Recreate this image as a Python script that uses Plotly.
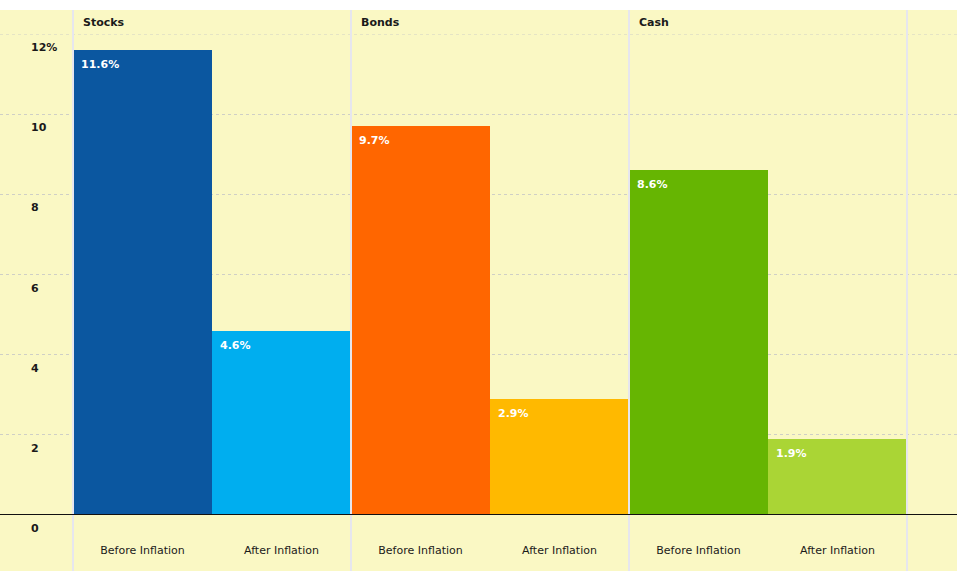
import plotly.graph_objects as go

assets = ["Stocks", "Bonds", "Cash"]
phases = ["Before Inflation", "After Inflation"]
before_inflation = [11.6, 9.7, 8.6]
after_inflation = [4.6, 2.9, 1.9]
before_colors = ["#0B57A0", "#FF6600", "#66B502"]
after_colors = ["#00AEEF", "#FFB900", "#AAD535"]
y_ticks = [0, 2, 4, 6, 8, 10, 12]
y_tick_text = ["0", "2", "4", "6", "8", "10", "12%"]

BG = "#FAF8C4"
FONT = "DejaVu Sans, Verdana, sans-serif"
W, H = 957, 571
M_T, M_B = 34, 56
BAR_PX = 139.0
LEFT_PX = 73.0

keys, vals, cols, tick_text = [], [], [], []
for a, b, af, cb, ca in zip(assets, before_inflation, after_inflation, before_colors, after_colors):
    keys += [f"{a}|{phases[0]}", f"{a}|{phases[1]}"]
    vals += [b, af]
    cols += [cb, ca]
    tick_text += phases

fig = go.Figure()
fig.add_trace(go.Bar(
    x=keys, y=vals, marker=dict(color=cols, line=dict(width=0)),
    width=1.0, hoverinfo="skip", showlegend=False,
))

x0 = -0.5 - LEFT_PX / BAR_PX
x1 = x0 + W / BAR_PX
plot_h = H - M_T - M_B

annotations = []
# value labels inside bars
for k, v in zip(keys, vals):
    annotations.append(dict(
        x=k, y=v, xref="x", yref="y", text=f"{v:.1f}%", showarrow=False,
        xanchor="left", yanchor="top", xshift=-BAR_PX / 2 + 6, yshift=-6,
        font=dict(family=FONT, size=11, color="white", weight="bold"),
    ))
# group headers
for i, a in enumerate(assets):
    annotations.append(dict(
        x=keys[2 * i], y=1 + 12 / plot_h, xref="x", yref="paper", text=a, showarrow=False,
        xanchor="left", yanchor="middle", xshift=-BAR_PX / 2 + 8,
        font=dict(family=FONT, size=11, color="#1a1a1a", weight="bold"),
    ))
# y tick labels (below gridlines)
for t, tt in zip(y_ticks, y_tick_text):
    annotations.append(dict(
        x=29 / W, y=t, xref="paper", yref="y", text=tt, showarrow=False,
        xanchor="left", yanchor="top", yshift=-5,
        font=dict(family=FONT, size=11, color="#1a1a1a", weight="bold"),
    ))

shapes = []
# white strip at top
shapes.append(dict(type="rect", xref="paper", yref="paper", x0=0, x1=1,
                   y0=1 + 24 / plot_h, y1=1 + 40 / plot_h, fillcolor="white",
                   line=dict(width=0), layer="above"))
# top dotted gridline (at range edge)
shapes.append(dict(type="line", xref="paper", yref="y", x0=0, x1=1,
                   y0=y_ticks[-1], y1=y_ticks[-1],
                   line=dict(color="#CFCFC6", width=1, dash="dot"), layer="below"))
# vertical group separators
for b in [-0.5, 1.5, 3.5, 5.5]:
    shapes.append(dict(type="line", xref="x", yref="paper", x0=b, x1=b,
                       y0=-M_B / plot_h, y1=1 + 24 / plot_h,
                       line=dict(color="#E6E6EE", width=2), layer="above"))
# zero line
shapes.append(dict(type="line", xref="paper", yref="y", x0=0, x1=1, y0=0, y1=0,
                   line=dict(color="#111111", width=2), layer="above"))

fig.update_layout(
    width=W, height=H,
    margin=dict(l=0, r=0, t=M_T, b=M_B),
    paper_bgcolor=BG, plot_bgcolor=BG,
    bargap=0,
    xaxis=dict(type="category", categoryorder="array", categoryarray=keys,
               tickvals=keys, ticktext=tick_text, range=[x0, x1],
               showgrid=False, zeroline=False, showline=False, ticks="",
               ticklabelstandoff=27,
               tickfont=dict(family=FONT, size=11, color="#1a1a1a")),
    yaxis=dict(range=[0, 12], tickvals=y_ticks, showticklabels=False,
               showgrid=True, gridcolor="#CFCFC6", griddash="dot", gridwidth=1,
               zeroline=False, showline=False, ticks=""),
    annotations=annotations,
    shapes=shapes,
)

fig.write_html("out.html")
